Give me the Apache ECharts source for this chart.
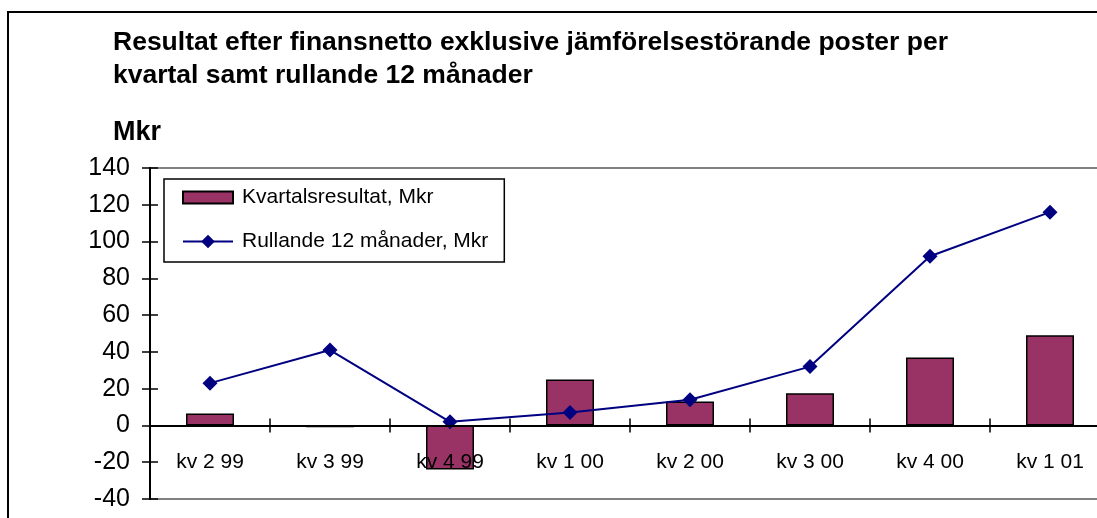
<!DOCTYPE html>
<html>
<head>
<meta charset="utf-8">
<script src="https://cdn.jsdelivr.net/npm/echarts@6/dist/echarts.min.js"></script>
<style>
html,body{margin:0;padding:0;background:#fff;}
#chart{width:1097px;height:518px;}
</style>
</head>
<body>
<div id="chart"></div>
<script>
const categories = ['kv 2 99','kv 3 99','kv 4 99','kv 1 00','kv 2 00','kv 3 00','kv 4 00','kv 1 01'];
const quarterly = [6.5, -1, -24, 25, 13, 17.5, 37, 49];
const rolling = [23, 41, 2, 7, 14, 32, 92, 116];
const yTicks = {min: -40, max: 140, interval: 20};
const seriesNames = ['Kvartalsresultat, Mkr', 'Rullande 12 månader, Mkr'];
const titleText = 'Resultat efter finansnetto exklusive jämförelsestörande poster per\nkvartal samt rullande 12 månader';
const unitText = 'Mkr';

const FONT = 'Arial, "Liberation Sans", sans-serif';
const chart = echarts.init(document.getElementById('chart'), null, {renderer: 'canvas'});

const GRID = {left: 150, top: 168, bottom: 19, right: -13};
const gridHeight = 518 - GRID.top - GRID.bottom;
// distance from bottom of plot to the zero line (labels axis sits on zero)
const zeroOffset = gridHeight * (0 - yTicks.min) / (yTicks.max - yTicks.min);

const yCommon = {
  type: 'value', min: yTicks.min, max: yTicks.max, interval: yTicks.interval,
  position: 'left', offset: 0,
  splitLine: {show: false},
  axisLine: {show: true, lineStyle: {color: '#000', width: 2}}
};

chart.setOption({
  animation: false,
  backgroundColor: '#fff',
  title: [
    {text: titleText, left: 113, top: 26, padding: 0,
     textStyle: {fontFamily: FONT, fontWeight: 'bold', fontSize: 26.5, lineHeight: 33, color: '#000'}},
    {text: unitText, left: 113, top: 120, padding: 0,
     textStyle: {fontFamily: FONT, fontWeight: 'bold', fontSize: 27, lineHeight: 26, color: '#000'}}
  ],
  graphic: [{
    type: 'rect', silent: true, z: -1,
    shape: {x: 8, y: 12, width: 3000, height: 3000},
    style: {fill: 'none', stroke: '#000', lineWidth: 2}
  }],
  legend: {
    orient: 'vertical', left: 164, top: 179,
    padding: [8, 16, 10, 18],
    itemGap: 23, itemWidth: 50, itemHeight: 17,
    borderColor: '#000', borderWidth: 1.5,
    backgroundColor: '#fff',
    textStyle: {fontFamily: FONT, fontSize: 21, color: '#000', padding: [0, 0, 0, 4]},
    data: [{name: seriesNames[0], icon: 'path://M0,0h50v12h-50z'}, {name: seriesNames[1]}]
  },
  grid: Object.assign({}, GRID, {
    outerBoundsMode: 'none', containLabel: false,
    show: true, borderColor: '#808080', borderWidth: 2, backgroundColor: 'transparent'
  }),
  xAxis: [
    {type: 'category', data: categories, position: 'bottom', z: 5,
     offset: -zeroOffset,
     axisLine: {onZero: false, lineStyle: {color: '#000', width: 2}},
     axisTick: {show: true, length: 7, lineStyle: {color: '#000', width: 1.5}},
     axisLabel: {margin: 26, fontFamily: FONT, fontSize: 21, color: '#000'}
    },
    {type: 'category', data: categories, position: 'top', z: 5,
     axisLine: {onZero: true, onZeroAxisIndex: 0, lineStyle: {color: '#000', width: 2}},
     axisTick: {show: true, length: 7, lineStyle: {color: '#000', width: 1.5}},
     axisLabel: {show: false}
    }
  ],
  yAxis: [
    Object.assign({}, yCommon, {
      axisTick: {show: true, inside: false, length: 8, lineStyle: {color: '#000', width: 1.5}},
      axisLabel: {margin: 20, fontFamily: FONT, fontSize: 25, color: '#000'}
    }),
    Object.assign({}, yCommon, {
      axisTick: {show: true, inside: true, length: 8, lineStyle: {color: '#000', width: 1.5}},
      axisLabel: {show: false}
    })
  ],
  series: [
    {name: seriesNames[0], type: 'bar', data: quarterly, barWidth: '40%',
     xAxisIndex: 0, yAxisIndex: 0,
     itemStyle: {color: '#993366', borderColor: '#000', borderWidth: 1.5}},
    {name: seriesNames[1], type: 'line', data: rolling,
     xAxisIndex: 0, yAxisIndex: 0, z: 4,
     symbol: 'diamond', symbolSize: 15,
     lineStyle: {color: '#000080', width: 2},
     itemStyle: {color: '#000080'}}
  ]
});
</script>
</body>
</html>
